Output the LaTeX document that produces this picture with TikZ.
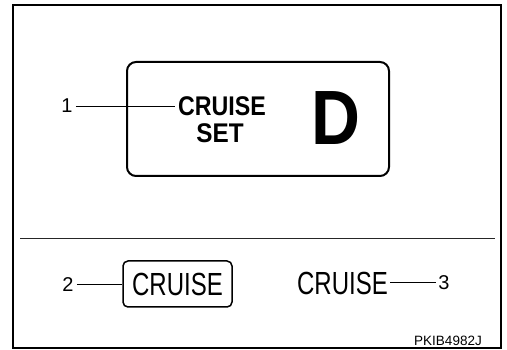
\documentclass[tikz,border=0pt]{standalone}
\usepackage{fontspec}
\setmainfont{Liberation Sans}
\begin{document}
\begin{tikzpicture}[x=1pt,y=-1pt,
  num/.style={inner sep=0pt, font=\fontsize{20}{20}\selectfont},
  leader/.style={line width=0.9pt},
  frame/.style={line width=2pt},
  panel/.style={draw, line width=2pt, rounded corners=9pt, inner sep=0pt},
  tag/.style={draw, line width=1.5pt, rounded corners=5pt, inner sep=0pt},
  bigtxt/.style={inner sep=0pt, font=\fontsize{27}{27}\bfseries\selectfont},
  thin/.style={inner sep=0pt, font=\fontsize{32}{32}\selectfont}]
\useasboundingbox (0,0) rectangle (507,350);
% outer frame
\draw[frame] (13,348.5) -- (13,5) -- (501,5) -- (501,348.5) -- cycle;
% main display panel
\node[panel, minimum width=262pt, minimum height=114pt] (panel) at (258,119) {};
\node[bigtxt] (cruise) at (222,106.5) {\scalebox{0.86}[1]{CRUISE}};
\node[bigtxt] (set) at (220,133) {\scalebox{0.9}[1]{SET}};
\node[inner sep=0pt, font=\fontsize{77}{77}\bfseries\selectfont] (dd) at (335.5,118) {\scalebox{0.88}[1]{D}};
\node[num] (n1) at (67,106) {1};
\draw[leader] ([xshift=3pt]n1.east) -- ([xshift=-3pt]n1.east -| cruise.west);
% separator
\coordinate (sepL) at (20,239);
\coordinate (sepR) at (495,239);
\draw[line width=1pt, black!85] (sepL) -- (sepR);
% lower indicators
\node[tag, minimum width=109pt, minimum height=46pt] (tag) at (177.5,284) {\fontsize{32}{32}\selectfont\scalebox{0.75}[1]{CRUISE}};
\node[num] (n2) at (68,284.5) {2};
\draw[leader] ([xshift=3pt]n2.east) -- (n2.east -| tag.west);
\node[thin] (cruise3) at (342.5,283) {\scalebox{0.75}[1]{CRUISE}};
\node[num] (n3) at (444,282.5) {3};
\draw[leader] ([xshift=2pt]cruise3.east |- n3.west) -- ([xshift=-2pt]n3.west);
% code
\node[inner sep=0pt, font=\fontsize{13.5}{13.5}\selectfont] (code) at (448,340.5) {PKIB4982J};
\end{tikzpicture}
\end{document}
